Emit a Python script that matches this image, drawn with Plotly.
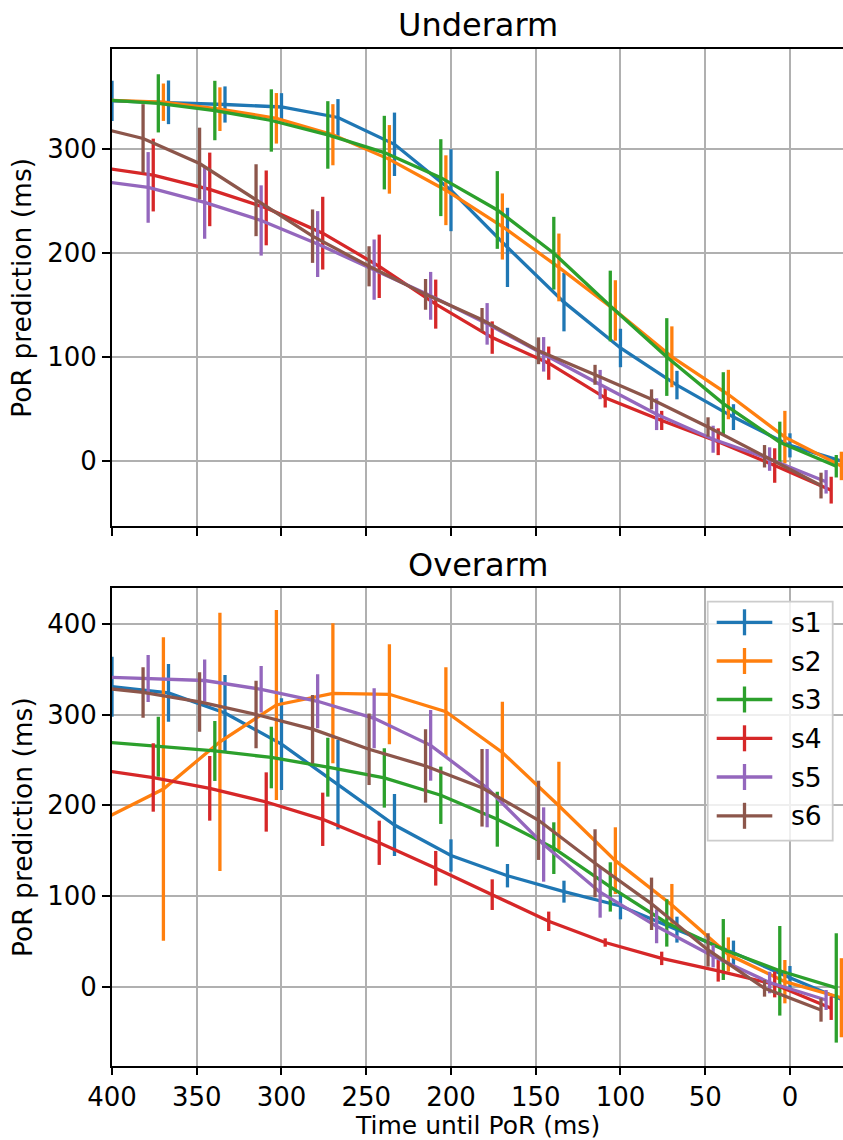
import plotly.graph_objects as go

# Time bins (ms before point of release); each subject is nudged along x so the bars don't overlap
times = [400.0, 366.67, 333.33, 300.0, 266.67, 233.33, 200.0, 166.67, 133.33, 100.0, 66.67, 33.33, 0.0, -33.33]
subjects = ["s1", "s2", "s3", "s4", "s5", "s6"]
x_offsets = [0, 3, 6, 9, 12, 15]
colors = ["#1f77b4", "#ff7f0e", "#2ca02c", "#d62728", "#9467bd", "#8c564b"]

# Underarm throws: mean prediction and spread per subject
under_s1 = [346.6, 345.2, 343.1, 340.7, 330.6, 304.8, 260.6, 205.6, 152.9, 108.8, 73.1, 42.3, 15.1, -1.5]
under_s2 = [347.2, 345.3, 338.6, 329.8, 314.0, 290.3, 260.6, 225.7, 186.3, 144.9, 100.3, 64.0, 23.0, -4.7]
under_s3 = [347.6, 344.2, 337.3, 327.7, 313.8, 296.8, 272.7, 241.6, 200.0, 149.2, 100.1, 55.3, 18.1, -5.0]
under_s4 = [283.1, 275.2, 261.4, 243.6, 219.3, 187.4, 151.0, 118.8, 94.2, 60.8, 39.1, 18.6, -4.3, -28.0]
under_s5 = [270.6, 263.3, 248.9, 231.5, 208.8, 184.2, 159.0, 132.0, 102.7, 73.6, 45.1, 21.0, 1.9, -20.0]
under_s6 = [323.7, 310.4, 286.3, 251.0, 216.4, 187.4, 160.4, 136.0, 106.1, 83.0, 59.4, 32.8, 4.6, -23.6]

under_err_s1 = [19.3, 21.0, 17.4, 13.3, 17.7, 30.5, 39.4, 38.1, 28.1, 18.5, 13.7, 12.4, 11.6, 12.0]
under_err_s2 = [20.0, 18.0, 21.0, 24.3, 29.4, 33.0, 33.6, 31.8, 32.6, 29.1, 29.3, 23.8, 25.3, 13.7]
under_err_s3 = [28.0, 28.0, 28.6, 30.0, 32.5, 35.4, 37.0, 37.4, 35.0, 34.0, 37.4, 30.2, 19.8, 10.8]
under_err_s4 = [35.0, 35.0, 35.4, 36.0, 35.0, 30.5, 23.6, 15.6, 16.0, 9.3, 9.2, 12.9, 16.6, 12.9]
under_err_s5 = [34.0, 34.0, 35.0, 33.8, 31.7, 29.0, 23.0, 20.0, 16.6, 14.1, 15.3, 13.0, 11.3, 11.3]
under_err_s6 = [33.0, 33.0, 34.5, 34.6, 25.7, 19.3, 14.8, 11.3, 12.9, 9.6, 9.6, 9.3, 10.8, 12.4]

# Overarm throws
over_s1 = [330.9, 324.1, 301.9, 267.5, 222.8, 178.3, 144.7, 122.4, 104.8, 89.0, 62.9, 37.4, 9.9, -16.2]
over_s2 = [186.6, 218.0, 270.1, 310.7, 323.6, 322.5, 303.3, 258.3, 199.5, 139.0, 90.1, 35.5, 5.5, -12.2]
over_s3 = [270.1, 264.7, 260.0, 252.8, 242.1, 230.2, 211.1, 184.7, 152.8, 110.0, 70.3, 41.0, 17.5, -1.4]
over_s4 = [239.5, 230.7, 218.8, 203.7, 184.6, 158.7, 130.6, 101.5, 72.1, 48.7, 31.2, 17.5, 2.4, -23.8]
over_s5 = [341.9, 339.9, 337.7, 328.0, 314.8, 296.0, 266.2, 219.0, 156.8, 104.2, 66.6, 33.6, 4.6, -14.7]
over_s6 = [331.4, 324.5, 314.0, 300.2, 284.0, 261.9, 243.4, 219.4, 183.5, 136.1, 91.4, 40.5, -1.8, -25.7]

over_err_s1 = [33.1, 31.8, 41.9, 50.6, 49.3, 34.2, 17.8, 12.9, 12.1, 14.7, 14.3, 13.4, 12.9, 13.0]
over_err_s2 = [150.0, 167.3, 142.4, 104.8, 77.2, 55.1, 48.9, 56.0, 48.7, 36.8, 23.2, 18.9, 23.9, 43.6]
over_err_s3 = [33.0, 33.1, 33.1, 34.0, 32.5, 32.7, 31.6, 30.3, 28.5, 27.2, 26.1, 33.6, 49.4, 60.3]
over_err_s4 = [37.0, 37.7, 35.7, 32.7, 29.4, 24.4, 19.1, 16.9, 10.7, 4.6, 7.4, 11.9, 14.2, 12.9]
over_err_s5 = [26.0, 25.9, 23.3, 25.7, 29.8, 33.1, 39.0, 43.2, 41.0, 28.1, 18.7, 12.3, 11.9, 11.0]
over_err_s6 = [28.0, 27.8, 32.7, 37.3, 37.7, 39.5, 40.4, 42.8, 43.7, 37.5, 28.9, 18.4, 9.2, 12.9]

x_ticks = [0, 50, 100, 150, 200, 250, 300, 350, 400]
under_yticks = [0, 100, 200, 300]
over_yticks = [0, 100, 200, 300, 400]

under_means = [under_s1, under_s2, under_s3, under_s4, under_s5, under_s6]
under_errs = [under_err_s1, under_err_s2, under_err_s3, under_err_s4, under_err_s5, under_err_s6]
over_means = [over_s1, over_s2, over_s3, over_s4, over_s5, over_s6]
over_errs = [over_err_s1, over_err_s2, over_err_s3, over_err_s4, over_err_s5, over_err_s6]

# Page geometry (px)
W, H = 843, 1140
ML, MR, MT, MB = 112, 0, 49, 74
PW, PH = W - ML - MR, H - MT - MB


def px_x(px):
    return (px - ML) / PW


def px_y(py):
    return (H - MB - py) / PH


FONT = "DejaVu Sans"
FS = 26.5
TICK_FS = 26
XLABEL_FS = 25
TITLE_FS = 32
LW = 3.3

fig = go.Figure()

for means, errs, xa, ya in [(under_means, under_errs, "x", "y"), (over_means, over_errs, "x2", "y2")]:
    for name, off, col, m, e in zip(subjects, x_offsets, colors, means, errs):
        fig.add_trace(go.Scatter(
            x=[t + off for t in times], y=m,
            mode="lines", name=name, showlegend=False,
            line=dict(color=col, width=LW),
            error_y=dict(type="data", array=e, visible=True, color=col, thickness=LW, width=0),
            xaxis=xa, yaxis=ya,
        ))

axis_common = dict(
    showline=True, linecolor="black", linewidth=2,
    ticks="outside", tickwidth=2, tickcolor="black",
    showgrid=True, gridcolor="#b0b0b0", gridwidth=1.8,
    zeroline=False, tickfont=dict(family=FONT, size=TICK_FS, color="black"),
)

top_dom = [px_y(526), 1.0]
bot_dom = [0.0, px_y(588.3)]

fig.update_layout(
    width=W, height=H,
    margin=dict(l=ML, r=MR, t=MT, b=MB, pad=0),
    paper_bgcolor="white", plot_bgcolor="white",
    font=dict(family=FONT, size=FS, color="black"),
    xaxis=dict(domain=[0, 1], anchor="y", range=[400, -31.3], tickvals=x_ticks, ticklen=8,
               showticklabels=False, mirror=True, matches="x2", **axis_common),
    xaxis2=dict(domain=[0, 1], anchor="y2", range=[400, -31.3], tickvals=x_ticks, ticklen=6.5,
                showticklabels=True, mirror=True, **axis_common),
    yaxis=dict(domain=top_dom, anchor="x", range=[-62.5, 396.5], tickvals=under_yticks,
               ticklen=8, **axis_common),
    yaxis2=dict(domain=bot_dom, anchor="x2", range=[-87.5, 439.4], tickvals=over_yticks,
                ticklen=8, **axis_common),
)

annotations = [
    dict(text="Underarm", x=0.5, y=px_y(25), font=dict(size=TITLE_FS)),
    dict(text="Overarm", x=0.5, y=px_y(565), font=dict(size=TITLE_FS)),
    dict(text="Time until PoR (ms)", x=0.5, y=px_y(1125), font=dict(size=XLABEL_FS)),
    dict(text="PoR prediction (ms)", x=px_x(22), y=px_y(287.7), textangle=-90, font=dict(size=FS)),
    dict(text="PoR prediction (ms)", x=px_x(22), y=px_y(827), textangle=-90, font=dict(size=FS)),
]
for a in annotations:
    fig.add_annotation(xref="paper", yref="paper", showarrow=False, borderpad=0,
                       xanchor="center", yanchor="middle", **a)

# Legend box in the upper right of the lower panel
shapes = [dict(type="rect", xref="paper", yref="paper",
               x0=px_x(707.7), x1=px_x(832.7), y0=px_y(840.7), y1=px_y(601.7),
               fillcolor="rgba(255,255,255,0.8)", line=dict(color="#cccccc", width=1.8), layer="above")]
entry_y = [622.3, 661.0, 699.5, 738.3, 777.0, 815.8]
for name, col, ey in zip(subjects, colors, entry_y):
    shapes.append(dict(type="line", xref="paper", yref="paper",
                       x0=px_x(716.7), x1=px_x(772.3), y0=px_y(ey), y1=px_y(ey),
                       line=dict(color=col, width=LW), layer="above"))
    shapes.append(dict(type="line", xref="paper", yref="paper",
                       x0=px_x(744.5), x1=px_x(744.5), y0=px_y(ey - 13), y1=px_y(ey + 13),
                       line=dict(color=col, width=LW), layer="above"))
    fig.add_annotation(xref="paper", yref="paper", showarrow=False, borderpad=0,
                       x=px_x(790), y=px_y(ey), xanchor="left", yanchor="middle",
                       text=name, font=dict(size=FS))
fig.update_layout(shapes=shapes)

fig.write_html("out.html")
